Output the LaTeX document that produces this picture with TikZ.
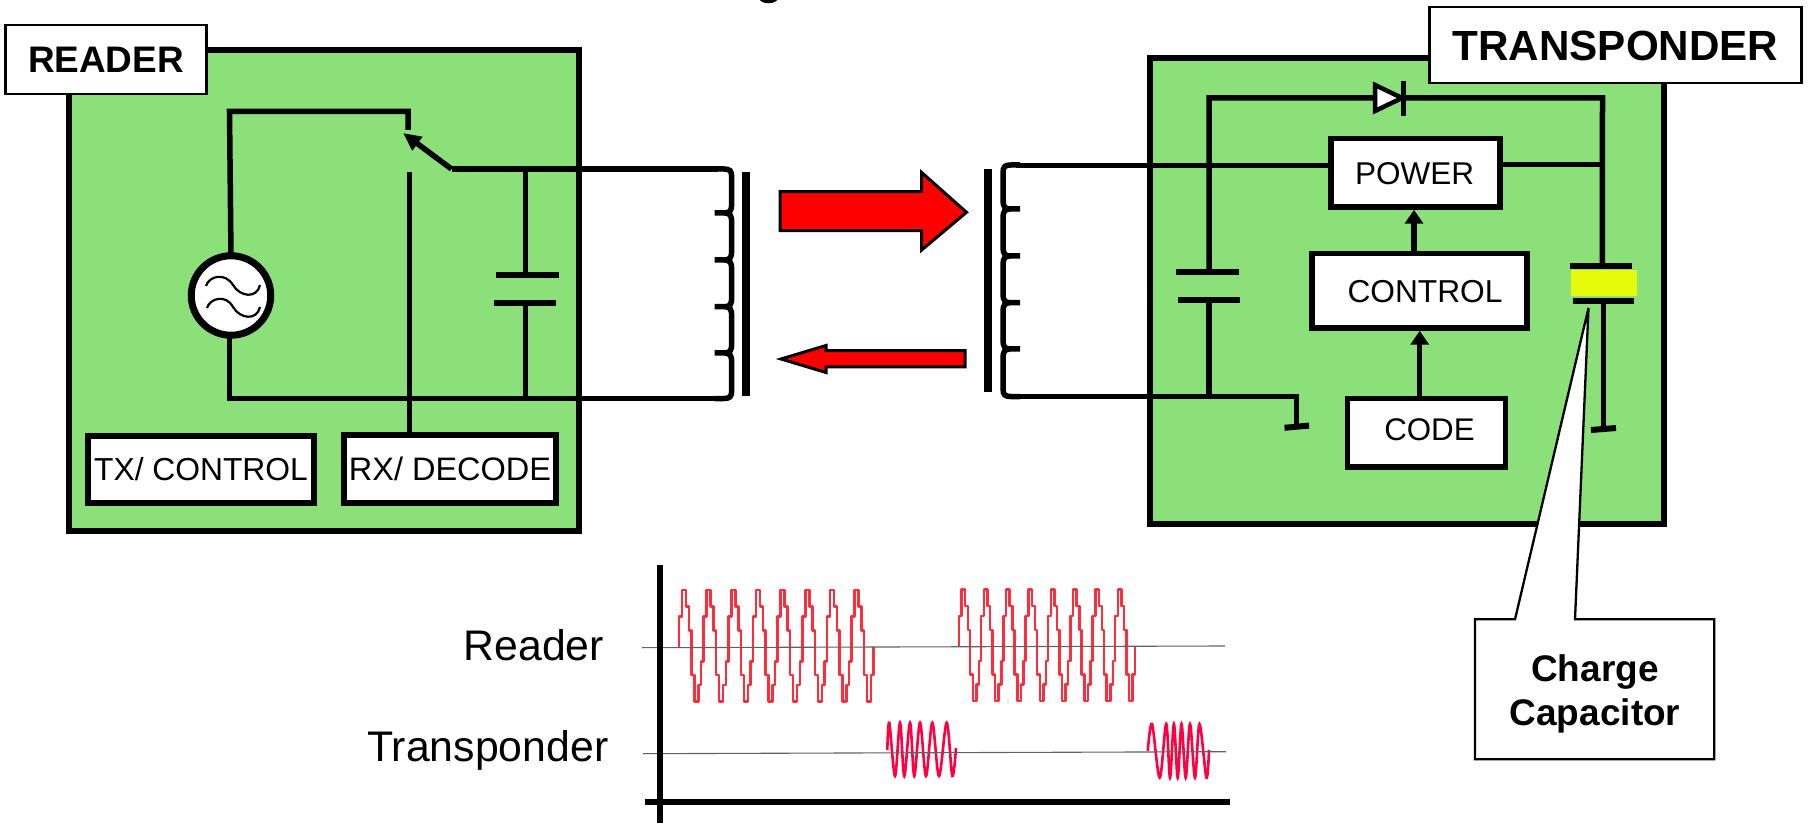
\documentclass[tikz,border=0pt]{standalone}
\usepackage{fontspec}
\setmainfont{Liberation Sans}
\usetikzlibrary{arrows.meta}
\definecolor{boardgreen}{HTML}{8CE07A}
\definecolor{capyellow}{HTML}{E6FB0A}
\definecolor{wavered}{HTML}{FF2C3C}
\definecolor{wavepink}{HTML}{FF0040}
\newcommand\fsz[1]{\fontsize{#1}{#1}\selectfont}
% coil: top y, four bump ys, bottom y, drawn about x=0 with stubs towards negative x
\newcommand\coilshape[6]{%
  \draw[wire] (-17,#1) -- (-8,#1) .. controls (-2,#1) and (0,#1+1.5) .. (0,#1+8)
  \foreach \yb in {#2,#3,#4,#5} {
    -- (0,\yb-9) .. controls (0,\yb-3) and (-1.5,\yb) .. (-7,\yb) -- (-17,\yb) -- (-7,\yb)
    .. controls (-1.5,\yb) and (0,\yb+3) .. (0,\yb+9)
  }
  -- (0,#6-8) .. controls (0,#6-1.5) and (-2,#6) .. (-8,#6) -- (-17,#6);}
% stepped carrier: eight periods, starting on the base line
\newcommand\stepburst{%
  \draw[stepwave] (0,0) -- ++(0,-30)
  \foreach \p in {1,...,7} {
    -- ++(3,0) -- ++(0,-26.67) -- ++(4,0) -- ++(0,16.67) -- ++(3,0) -- ++(0,24)
    -- ++(2.5,0) -- ++(0,44.33) -- ++(3,0) -- ++(0,26.67) -- ++(4,0) -- ++(0,-16.67)
    -- ++(2.67,0) -- ++(0,-23.33) -- ++(2.5,0) -- ++(0,-45)
  }
  -- ++(3,0) -- ++(0,-26.67) -- ++(4,0) -- ++(0,16.67) -- ++(3,0) -- ++(0,24)
  -- ++(2.5,0) -- ++(0,44.33) -- ++(3,0) -- ++(0,26.67) -- ++(4,0) -- ++(0,-26.67)
  -- ++(2.33,0) -- ++(0,-28.33);}
\tikzset{
  board/.style={draw=black,fill=boardgreen,line width=5.5pt,miter limit=10},
  wire/.style={draw=black,line width=5.5pt},
  plate/.style={draw=black,line width=6pt},
  corebar/.style={draw=black,line width=8pt},
  tag/.style={draw=black,fill=white,line width=2.2pt,inner sep=0pt,outer sep=0pt,font=\bfseries},
  blockbox/.style={draw=black,fill=white,line width=5.5pt,inner sep=0pt,outer sep=0pt},
  redarrow/.style={draw=black,fill=red,line width=3pt,line join=miter,miter limit=10},
  uparrow/.style={wire,-{Triangle[length=14pt,width=18pt]}},
  stepwave/.style={draw=wavered,line width=2.6pt,line join=round},
  smoothwave/.style={draw=wavepink,line width=2.6pt},
  baseline/.style={draw=black!62,line width=1.1pt},
  axisline/.style={draw=black,line width=6pt},
  plainlabel/.style={inner sep=0pt,font=\fsz{42.8}},
}
\begin{document}
\begin{tikzpicture}[x=1pt,y=-1pt]
\useasboundingbox (0,0) rectangle (1808,826);
\fill[white] (0,0) rectangle (1808,826);
% fragment of clipped text at the top edge
\begin{scope}
\clip (0,0) rectangle (1808,826);
\fill[black] (768.5,-3) ellipse [x radius=10,y radius=6.3];
\end{scope}

% boards
\node[board,minimum width=510pt,minimum height=481pt,inner sep=0pt,outer sep=0pt] (readerboard) at (324,290.5) {};
\node[board,minimum width=514pt,minimum height=466pt,inner sep=0pt,outer sep=0pt] (tagboard) at (1407,291) {};

% ---------- reader wiring coordinates
\coordinate (srcTopWire) at (229.5,108.8);
\coordinate (swCorner) at (408,111.5);
\coordinate (swContact) at (408,130);
\coordinate (swPivot) at (451.5,169);
\coordinate (swTip) at (403,133);
\coordinate (capRtop) at (525.5,169);
\coordinate (coilRtop) at (718,169);
\coordinate (capRu) at (525.5,275);
\coordinate (capRl) at (525.5,303);
\coordinate (busLeft) at (229.5,398.5);
\coordinate (busCap) at (525.5,398.5);
\coordinate (coilRbot) at (718,398.5);
\coordinate (rxTop) at (409.7,172);

% source
\node[draw=black,fill=white,line width=7pt,circle,minimum size=79.5pt,inner sep=0pt,outer sep=0pt] (source) at (231,295.5) {};

% reader wires
\draw[wire] (source.north) -- (srcTopWire |- swCorner) -- (swCorner) -- (swContact);
\draw[wire] (source.south -| busLeft) -- (busLeft) -- (coilRbot);
\draw[wire] (swPivot) -- (coilRtop);
\draw[wire,-{Triangle[length=18pt,width=16pt]}] (swPivot) -- (swTip);
\draw[wire] (capRtop) -- (capRu);
\draw[wire] (capRl) -- (busCap);
\draw[plate] (496,275) -- (558.7,275);
\draw[plate] (494,303) -- (556,303);

% sine marks in source
\draw[black,line width=2.2pt] (206,286) .. controls (209,276) and (225,272) .. (233,285)
  .. controls (240,297) and (257,299) .. (260,285);
\draw[black,line width=2.2pt] (207,308) .. controls (210,298) and (226,294) .. (233,307)
  .. controls (240,319) and (257,321) .. (260,307);

% reader blocks
\node[blockbox,minimum width=226pt,minimum height=67pt,font=\fsz{31.8},text height=22.8pt,text depth=0pt] (txbox) at (201,469.5) {TX/ CONTROL};
\node[blockbox,minimum width=212pt,minimum height=68pt,font=\fsz{32.5},text height=23.3pt,text depth=0pt] (rxbox) at (450,469) {RX/ DECODE};
\draw[wire] (rxTop) -- (rxTop |- rxbox.north);

% reader coil and core
\begin{scope}[shift={(731.7,0)}]
\coilshape{169}{213}{260}{306.7}{353}{398.5}
\end{scope}
\coordinate (coreRt) at (746.3,171.7);
\coordinate (coreRb) at (746.3,396);
\draw[corebar] (coreRt) -- (coreRb);

% coupling arrows
\draw[redarrow] (780,191.7) -- (921.7,191.7) -- (921.7,172.5) -- (966.5,212.3) -- (921.7,250) -- (921.7,230.7) -- (780,230.7) -- cycle;
\draw[redarrow] (965,350.7) -- (826,350.7) -- (826,345.5) -- (781,359) -- (826,372.5) -- (826,367) -- (965,367) -- cycle;

% transponder coil and core
\coordinate (coreTt) at (988.3,169);
\coordinate (coreTb) at (988.3,392);
\draw[corebar] (coreTt) -- (coreTb);
\begin{scope}[shift={(1003,0)},xscale=-1]
\coilshape{165}{209}{256}{302.7}{349}{396.5}
\end{scope}

% ---------- transponder wiring coordinates
\coordinate (diodeL) at (1209,98);
\coordinate (diodeR) at (1602.5,98);
\coordinate (capTu) at (1209,272);
\coordinate (capTl) at (1209,300);
\coordinate (capTbus) at (1209,396);
\coordinate (wireTtop) at (1016,165.5);
\coordinate (wireTbot) at (1016,396.5);
\coordinate (gndA) at (1296.4,396.5);
\coordinate (gndAend) at (1296.4,427);
\coordinate (ccTop) at (1602.3,266);
\coordinate (ccLow) at (1603.6,300.7);
\coordinate (gndB) at (1603.6,429);

% transponder wires
\draw[wire] (capTu) -- (diodeL) -- (diodeR) -- (ccTop);
\draw[wire] (capTl) -- (capTbus);
\draw[wire] (wireTbot) -- (gndA) -- (gndAend);
\draw[wire] (ccLow) -- (gndB);
\draw[plate] (1176,272) -- (1238.5,272);
\draw[plate] (1178,300) -- (1240,300);
\draw[plate] (1284.5,427.8) -- (1309,425.6);
\draw[plate] (1591,430) -- (1616,428);

% charge capacitor
\fill[capyellow] (1571,270) rectangle (1637,296);
\draw[plate] (1570,266) -- (1631.7,266);
\draw[plate] (1572.8,300.7) -- (1634.4,300.7);

% diode
\draw[draw=black,fill=white,line width=4.5pt,miter limit=10] (1375,85) -- (1402,98) -- (1375,111) -- cycle;
\coordinate (diodeBarT) at (1403.5,81);
\coordinate (diodeBarB) at (1403.5,115.7);
\draw[wire] (diodeBarT) -- (diodeBarB);

% transponder blocks
\node[blockbox,minimum width=169pt,minimum height=68.5pt,font=\fsz{31.5},text height=22.6pt,text depth=0pt] (power) at (1415.5,172.75) {\hspace*{-2pt}POWER};
\node[blockbox,minimum width=215pt,minimum height=74.5pt,font=\fsz{31.7},text height=22.7pt,text depth=0pt] (control) at (1419.5,290.75) {\hspace*{11pt}CONTROL};
\node[blockbox,minimum width=158pt,minimum height=68.5pt,font=\fsz{31.3},text height=22.4pt,text depth=0pt] (code) at (1426.5,432.75) {\hspace*{6pt}\raisebox{3.5pt}{CODE}};
\draw[wire] (wireTtop) -- (power.west |- wireTtop);
\coordinate (powerOut) at (1602.5,164.5);
\draw[wire] (power.east |- powerOut) -- (powerOut);
\coordinate (arrA) at (1414,253.5);
\coordinate (arrB) at (1419.7,398.5);
\draw[uparrow,shorten >=2.75pt] (arrA) -- (arrA |- power.south);
\draw[uparrow,shorten >=2.75pt] (arrB) -- (arrB |- control.south);

% callout
\coordinate (ctip) at (1588.5,308);
\draw[draw=black,fill=white,line width=2.3pt,line join=miter] (1475,619.3) -- (1515,619.3) -- (ctip) -- (1575,619.3) -- (1714.3,619.3) -- (1714.3,759.3) -- (1475,759.3) -- cycle;
\node[inner sep=0pt,align=center,font=\fsz{37}\bfseries] (calltext) at (1595,694) {Charge\\[7pt]Capacitor};

% name tags
\node[tag,minimum width=201pt,minimum height=69pt,font=\fsz{36.9}\bfseries,text height=26.4pt,text depth=0pt] (readertag) at (106,59.5) {READER};
\node[tag,minimum width=372pt,minimum height=75.4pt,font=\fsz{42.2}\bfseries,text height=30.2pt,text depth=0pt] (tagtag) at (1615.5,45) {TRANSPONDER};

% timing chart
\node[plainlabel,anchor=base west] (readerlabel) at (463.5,660.7) {Reader};
\node[plainlabel,anchor=base west] (tagslabel) at (367,761.7) {Transponder};
\begin{scope}[shift={(679,646.7)}]
\stepburst
\end{scope}
\begin{scope}[shift={(958.8,646)},xscale=.905]
\stepburst
\end{scope}
\draw[smoothwave] plot[smooth,tension=.55] coordinates {(887.3,750) (889.3,722.7) (895,776) (900,722.7) (904.3,776) (910,722.7) (914.3,776) (920,722.7) (926,776) (932.3,722.7) (939,776) (946.7,722.7) (952.3,776) (956,748)};
\draw[smoothwave] plot[smooth,tension=.55] coordinates {(1147.8,751) (1152,724) (1159.7,777.7) (1166.2,724) (1170,777.7) (1173.9,724) (1177.7,777.7) (1181.5,724) (1185.7,777.7) (1190,724) (1195,777.7) (1199.5,724) (1206.4,777.7) (1209,750)};
\coordinate (baseAl) at (642,647.7);
\coordinate (baseAr) at (1224.8,646);
\coordinate (baseBl) at (643,753.7);
\coordinate (baseBr) at (1226,751.7);
\draw[baseline] (baseAl) -- (baseAr);
\draw[baseline] (baseBl) -- (baseBr);
\coordinate (axisTop) at (660.3,565);
\coordinate (axisBot) at (660.3,823);
\coordinate (axisL) at (644.6,802.3);
\coordinate (axisR) at (1230,802.3);
\draw[axisline] (axisTop) -- (axisBot);
\draw[axisline] (axisL) -- (axisR);
\end{tikzpicture}
\end{document}
